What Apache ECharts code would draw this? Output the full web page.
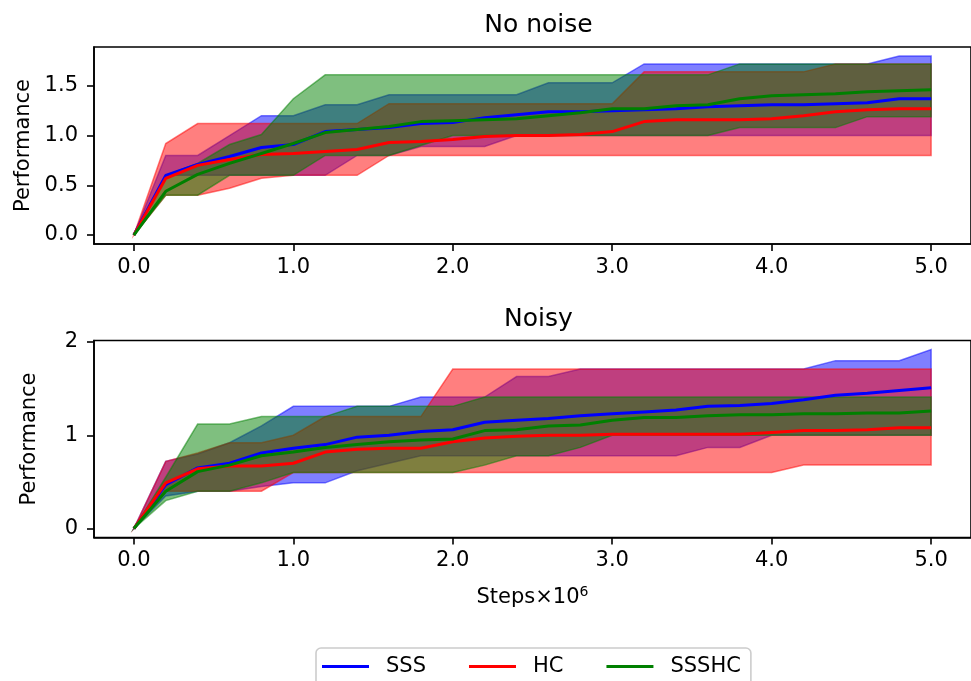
<!DOCTYPE html>
<html>
<head>
<meta charset="utf-8">
<script src="https://cdn.jsdelivr.net/npm/echarts@6/dist/echarts.min.js"></script>
<style>
html,body{margin:0;padding:0;background:#fff;}
#chart{width:971px;height:681px;}
</style>
</head>
<body>
<div id="chart"></div>
<script>
// ---------- data ----------
const steps = [0, 0.2, 0.4, 0.6, 0.8, 1.0, 1.2, 1.4, 1.6, 1.8, 2.0, 2.2, 2.4, 2.6, 2.8, 3.0, 3.2, 3.4, 3.6, 3.8, 4.0, 4.2, 4.4, 4.6, 4.8, 5.0];
const xTicks = [0, 1, 2, 3, 4, 5];
const yTicksClean = [0, 0.5, 1.0, 1.5];
const yTicksNoisy = [0, 1, 2];
const seriesNames = ['SSS', 'HC', 'SSSHC'];
const panelTitles = ['No noise', 'Noisy'];

// No noise
const sssMeanClean = [0, 0.60, 0.71, 0.79, 0.88, 0.91, 1.04, 1.06, 1.08, 1.12, 1.13, 1.18, 1.21, 1.24, 1.24, 1.25, 1.26, 1.27, 1.29, 1.30, 1.31, 1.31, 1.32, 1.33, 1.37, 1.37];
const sssLowClean  = [0, 0.60, 0.60, 0.60, 0.60, 0.60, 0.60, 0.80, 0.80, 0.89, 0.89, 0.89, 1.00, 1.00, 1.00, 1.00, 1.00, 1.00, 1.00, 1.00, 1.00, 1.00, 1.00, 1.00, 1.00, 1.00];
const sssHighClean = [0, 0.80, 0.80, 1.00, 1.20, 1.20, 1.31, 1.31, 1.41, 1.41, 1.41, 1.41, 1.41, 1.53, 1.53, 1.53, 1.72, 1.72, 1.72, 1.72, 1.72, 1.72, 1.72, 1.72, 1.80, 1.80];
const hcMeanClean  = [0, 0.57, 0.70, 0.76, 0.81, 0.82, 0.84, 0.86, 0.93, 0.94, 0.96, 0.99, 1.00, 1.00, 1.01, 1.04, 1.14, 1.16, 1.16, 1.16, 1.17, 1.20, 1.24, 1.26, 1.27, 1.27];
const hcLowClean   = [0, 0.40, 0.40, 0.47, 0.57, 0.60, 0.60, 0.60, 0.80, 0.80, 0.80, 0.80, 0.80, 0.80, 0.80, 0.80, 0.80, 0.80, 0.80, 0.80, 0.80, 0.80, 0.80, 0.80, 0.80, 0.80];
const hcHighClean  = [0, 0.92, 1.12, 1.12, 1.12, 1.12, 1.12, 1.12, 1.32, 1.32, 1.32, 1.32, 1.32, 1.32, 1.32, 1.32, 1.64, 1.64, 1.64, 1.64, 1.64, 1.64, 1.72, 1.72, 1.72, 1.72];
const ssshcMeanClean = [0, 0.44, 0.61, 0.72, 0.82, 0.92, 1.03, 1.06, 1.09, 1.14, 1.15, 1.16, 1.17, 1.20, 1.23, 1.27, 1.27, 1.30, 1.31, 1.37, 1.40, 1.41, 1.42, 1.44, 1.45, 1.46];
const ssshcLowClean  = [0, 0.40, 0.40, 0.60, 0.60, 0.60, 0.80, 0.80, 0.80, 0.90, 1.00, 1.00, 1.00, 1.00, 1.00, 1.00, 1.00, 1.00, 1.00, 1.08, 1.08, 1.08, 1.08, 1.19, 1.19, 1.19];
const ssshcHighClean = [0, 0.60, 0.72, 0.91, 1.01, 1.37, 1.61, 1.61, 1.61, 1.61, 1.61, 1.61, 1.61, 1.61, 1.61, 1.61, 1.61, 1.61, 1.61, 1.72, 1.72, 1.72, 1.72, 1.72, 1.72, 1.72];

// Noisy
const sssMeanNoisy = [0, 0.47, 0.65, 0.70, 0.81, 0.86, 0.90, 0.98, 1.00, 1.04, 1.06, 1.14, 1.16, 1.18, 1.21, 1.23, 1.25, 1.27, 1.31, 1.32, 1.34, 1.38, 1.43, 1.45, 1.48, 1.51];
const sssLowNoisy  = [0, 0.35, 0.40, 0.40, 0.45, 0.49, 0.49, 0.62, 0.70, 0.78, 0.78, 0.78, 0.78, 0.78, 0.78, 0.78, 0.78, 0.78, 0.87, 0.87, 1.00, 1.00, 1.00, 1.00, 1.00, 1.00];
const sssHighNoisy = [0, 0.72, 0.80, 0.92, 1.10, 1.31, 1.31, 1.31, 1.31, 1.41, 1.41, 1.41, 1.63, 1.63, 1.71, 1.71, 1.71, 1.71, 1.71, 1.71, 1.71, 1.71, 1.80, 1.80, 1.80, 1.92];
const hcMeanNoisy  = [0, 0.49, 0.64, 0.67, 0.67, 0.70, 0.82, 0.85, 0.86, 0.86, 0.93, 0.97, 0.99, 1.00, 1.00, 1.01, 1.01, 1.01, 1.01, 1.01, 1.03, 1.05, 1.05, 1.06, 1.08, 1.08];
const hcLowNoisy   = [0, 0.40, 0.40, 0.40, 0.40, 0.60, 0.60, 0.60, 0.60, 0.60, 0.60, 0.60, 0.60, 0.60, 0.60, 0.60, 0.60, 0.60, 0.60, 0.60, 0.60, 0.68, 0.68, 0.68, 0.68, 0.68];
const hcHighNoisy  = [0, 0.72, 0.81, 0.92, 0.92, 1.00, 1.20, 1.20, 1.20, 1.20, 1.71, 1.71, 1.71, 1.71, 1.71, 1.71, 1.71, 1.71, 1.71, 1.71, 1.71, 1.71, 1.71, 1.71, 1.71, 1.71];
const ssshcMeanNoisy = [0, 0.40, 0.61, 0.68, 0.78, 0.82, 0.87, 0.90, 0.93, 0.95, 0.96, 1.05, 1.06, 1.10, 1.11, 1.16, 1.19, 1.19, 1.21, 1.22, 1.22, 1.23, 1.23, 1.24, 1.24, 1.26];
const ssshcLowNoisy  = [0, 0.30, 0.40, 0.40, 0.49, 0.60, 0.60, 0.60, 0.60, 0.60, 0.60, 0.68, 0.78, 0.78, 0.87, 1.00, 1.00, 1.00, 1.00, 1.00, 1.00, 1.00, 1.00, 1.00, 1.00, 1.00];
const ssshcHighNoisy = [0, 0.55, 1.12, 1.12, 1.20, 1.20, 1.20, 1.31, 1.31, 1.31, 1.31, 1.41, 1.41, 1.41, 1.41, 1.41, 1.41, 1.41, 1.41, 1.41, 1.41, 1.41, 1.41, 1.41, 1.41, 1.41];

// ---------- build ----------
const FONT = 'DejaVu Sans';
const colors = {SSS: '#0000ff', HC: '#ff0000', SSSHC: '#008000'};
const alphaColors = {SSS: 'rgba(0,0,255,0.5)', HC: 'rgba(255,0,0,0.5)', SSSHC: 'rgba(0,128,0,0.5)'};

const panels = [
  {SSS: [sssMeanClean, sssLowClean, sssHighClean], HC: [hcMeanClean, hcLowClean, hcHighClean], SSSHC: [ssshcMeanClean, ssshcLowClean, ssshcHighClean]},
  {SSS: [sssMeanNoisy, sssLowNoisy, sssHighNoisy], HC: [hcMeanNoisy, hcLowNoisy, hcHighNoisy], SSSHC: [ssshcMeanNoisy, ssshcLowNoisy, ssshcHighNoisy]}
];

function bandSeries(name, gi, lower, upper) {
  const data = steps.map((x, i) => [x, lower[i], upper[i]]);
  return {
    type: 'custom', name: name + ' range', xAxisIndex: gi, yAxisIndex: gi,
    silent: true, z: 1, clip: true,
    encode: {x: 0, y: [1, 2]},
    data: data,
    renderItem: function (params, api) {
      if (params.dataIndex !== 0) return null;
      const pts = [];
      for (let i = 0; i < data.length; i++) pts.push(api.coord([data[i][0], data[i][2]]));
      for (let i = data.length - 1; i >= 0; i--) pts.push(api.coord([data[i][0], data[i][1]]));
      return {
        type: 'polygon', shape: {points: pts},
        style: {fill: alphaColors[name], stroke: alphaColors[name], lineWidth: 1.5}
      };
    }
  };
}
function meanSeries(name, gi, mean) {
  return {
    type: 'line', name: name, xAxisIndex: gi, yAxisIndex: gi, z: 2,
    data: steps.map((x, i) => [x, mean[i]]),
    showSymbol: false, symbol: 'none',
    color: colors[name],
    itemStyle: {color: colors[name]},
    lineStyle: {color: colors[name], width: 3}
  };
}

const series = [];
panels.forEach((p, gi) => {
  seriesNames.forEach(n => series.push(bandSeries(n, gi, p[n][1], p[n][2])));
  seriesNames.forEach(n => series.push(meanSeries(n, gi, p[n][0])));
});

const gridTops = [47, 340.5];
const yRanges = [[-0.09, 1.89], [-0.096, 2.016]];
const yTickSets = [yTicksClean, yTicksNoisy];
const yFormat = [v => v.toFixed(1), v => String(v)];

const option = {
  animation: false,
  backgroundColor: '#ffffff',
  textStyle: {fontFamily: FONT},
  title: panelTitles.map((t, i) => ({
    text: t, left: 533.5, textAlign: 'center', top: gridTops[i] - 39,
    textStyle: {fontFamily: FONT, fontSize: 25, fontWeight: 'normal', color: '#000'}
  })),
  grid: gridTops.map(t => ({
    left: 94, top: t, width: 880, height: 197, show: true,
    borderColor: '#000', borderWidth: 1.6, backgroundColor: 'transparent'
  })),
  xAxis: [0, 1].map(i => ({
    type: 'value', gridIndex: i, min: -0.25, max: 5.25,
    name: i === 1 ? 'Steps×10{sup|6}' : '',
    nameLocation: 'middle', nameGap: 48,
    nameTextStyle: {fontFamily: FONT, fontSize: 21, color: '#000',
      rich: {sup: {fontFamily: FONT, fontSize: 14, color: '#000', padding: [0, 0, 10, 0]}}},
    axisLine: {show: true, onZero: false, lineStyle: {color: '#000', width: 1.6}},
    axisTick: {show: true, customValues: xTicks, length: 7, lineStyle: {color: '#000', width: 1.6}},
    axisLabel: {customValues: xTicks, formatter: v => Number(v).toFixed(1), fontSize: 21, color: '#000', fontFamily: FONT, margin: 13},
    splitLine: {show: false}
  })),
  yAxis: [0, 1].map(i => ({
    type: 'value', gridIndex: i, min: yRanges[i][0], max: yRanges[i][1],
    name: 'Performance', nameLocation: 'middle', nameGap: 54, nameRotate: 90,
    nameTextStyle: {fontFamily: FONT, fontSize: 21, color: '#000'},
    axisLine: {show: true, onZero: false, lineStyle: {color: '#000', width: 1.6}},
    axisTick: {show: true, customValues: yTickSets[i], length: 7, lineStyle: {color: '#000', width: 1.6}},
    axisLabel: {customValues: yTickSets[i], formatter: v => yFormat[i](Number(v)), fontSize: 21, color: '#000', fontFamily: FONT, margin: 16},
    splitLine: {show: false}
  })),
  legend: {
    data: seriesNames,
    left: 316, top: 648, orient: 'horizontal',
    icon: 'rect', itemWidth: 47, itemHeight: 3, itemGap: 43,
    padding: [8, 10, 10, 6],
    borderColor: '#cccccc', borderWidth: 1.6, borderRadius: 5,
    backgroundColor: 'rgba(255,255,255,0.8)',
    textStyle: {fontFamily: FONT, fontSize: 21, color: '#000', padding: [0, 0, 0, 12]}
  },
  series: series
};

const chart = echarts.init(document.getElementById('chart'), null, {renderer: 'canvas'});
chart.setOption(option);
</script>
</body>
</html>
